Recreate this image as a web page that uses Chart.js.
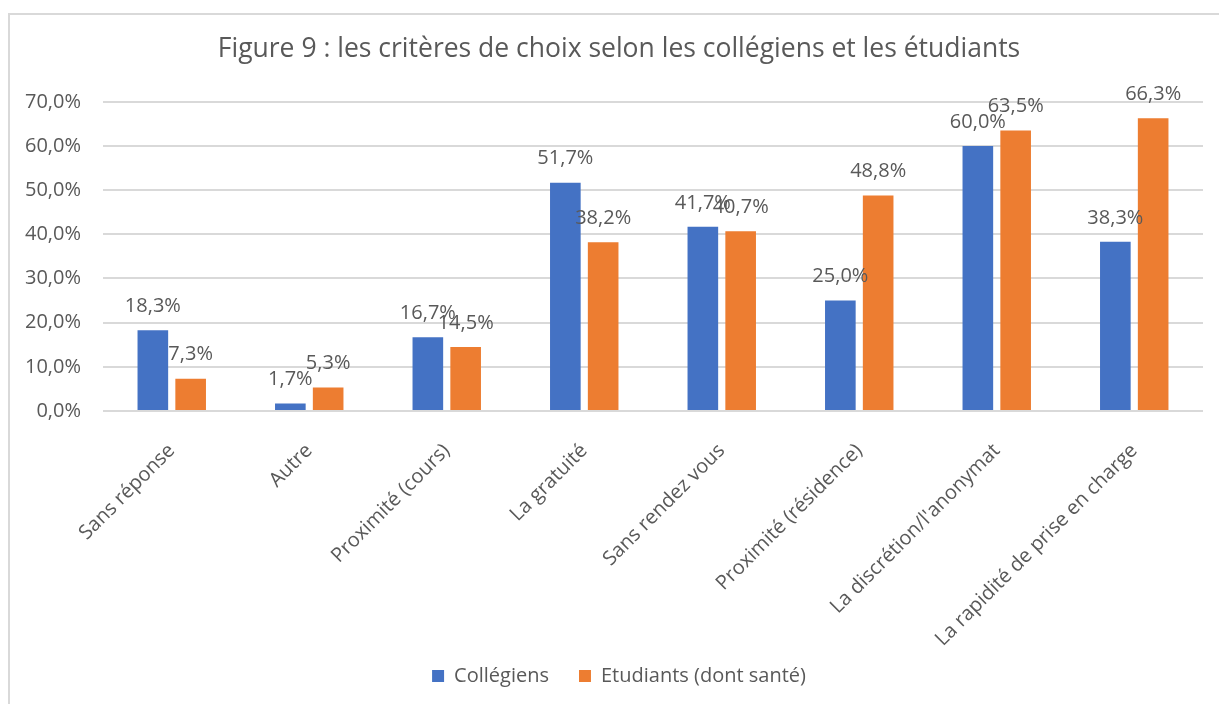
<!DOCTYPE html>
<html>
<head>
<meta charset="utf-8">
<script src="https://cdn.jsdelivr.net/npm/chart.js@4/dist/chart.umd.min.js"></script>
<style>
  html, body { margin: 0; padding: 0; background: #fff; overflow: hidden; }
  #frame { position: absolute; left: 8px; top: 13px; width: 1240px; height: 720px; border: 2px solid #d9d9d9; box-sizing: border-box; }
  #wrap { position: absolute; left: 0; top: 0; width: 1219px; height: 704px; }
</style>
</head>
<body>
<div id="frame"></div>
<div id="wrap"><canvas id="c" width="1219" height="704"></canvas></div>
<script>
const categories = ["Sans réponse", "Autre", "Proximité (cours)", "La gratuité", "Sans rendez vous", "Proximité (résidence)", "La discrétion/l'anonymat", "La rapidité de prise en charge"];
const collegiens = [18.3, 1.7, 16.7, 51.7, 41.7, 25.0, 60.0, 38.3];
const etudiants = [7.3, 5.3, 14.5, 38.2, 40.7, 48.8, 63.5, 66.3];
const yTicks = [0, 10, 20, 30, 40, 50, 60, 70];
const seriesNames = ["Collégiens", "Etudiants (dont santé)"];
const titleText = "Figure 9 : les critères de choix selon les collégiens et les étudiants";

const FONT = "'Open Sans', sans-serif";
const GREY = "#595959";
const fmt = v => v.toFixed(1).replace('.', ',') + '%';

const labelPlugin = {
  id: 'valueLabels',
  afterDatasetsDraw(chart) {
    const ctx = chart.ctx;
    ctx.save();
    ctx.font = "20px " + FONT;
    ctx.fillStyle = GREY;
    ctx.textAlign = 'center';
    ctx.textBaseline = 'middle';
    chart.data.datasets.forEach((ds, di) => {
      const meta = chart.getDatasetMeta(di);
      meta.data.forEach((bar, i) => {
        ctx.fillText(fmt(ds.data[i]), bar.x, bar.y - 24);
      });
    });
    ctx.restore();
  }
};

const noClip = scale => { scale._computeLabelArea = () => undefined; };

new Chart(document.getElementById('c'), {
  type: 'bar',
  data: {
    labels: categories,
    datasets: [
      { label: seriesNames[0], data: collegiens, backgroundColor: '#4472C4', categoryPercentage: 0.55, barPercentage: 0.81 },
      { label: seriesNames[1], data: etudiants, backgroundColor: '#ED7D31', categoryPercentage: 0.55, barPercentage: 0.81 }
    ]
  },
  options: {
    responsive: false,
    animation: false,
    layout: { padding: { left: 35, right: 16, top: 0, bottom: 8 } },
    plugins: {
      title: {
        display: true, text: titleText, color: GREY,
        font: { family: FONT, size: 26.5, weight: 'normal' },
        padding: { top: 34, bottom: 36 }
      },
      legend: {
        position: 'bottom',
        labels: { color: GREY, font: { family: FONT, size: 20 }, boxWidth: 12, boxHeight: 12, padding: 30 }
      },
      tooltip: { enabled: false }
    },
    scales: {
      x: {
        grid: { display: false },
        border: { display: false },
        ticks: { color: GREY, font: { family: FONT, size: 20 }, minRotation: 45, maxRotation: 45, autoSkip: false, padding: 20 },
        afterFit(scale) { scale.height = 225; noClip(scale); }
      },
      y: {
        min: 0, max: 70,
        afterBuildTicks(scale) { scale.ticks = yTicks.map(v => ({ value: v })); },
        grid: { color: '#d9d9d9', lineWidth: 2, drawTicks: false },
        border: { display: false },
        ticks: { color: GREY, font: { family: FONT, size: 20 }, padding: 22, callback: v => fmt(v) },
        afterFit(scale) { scale.width = 68; noClip(scale); }
      }
    }
  },
  plugins: [labelPlugin]
});
</script>
</body>
</html>
